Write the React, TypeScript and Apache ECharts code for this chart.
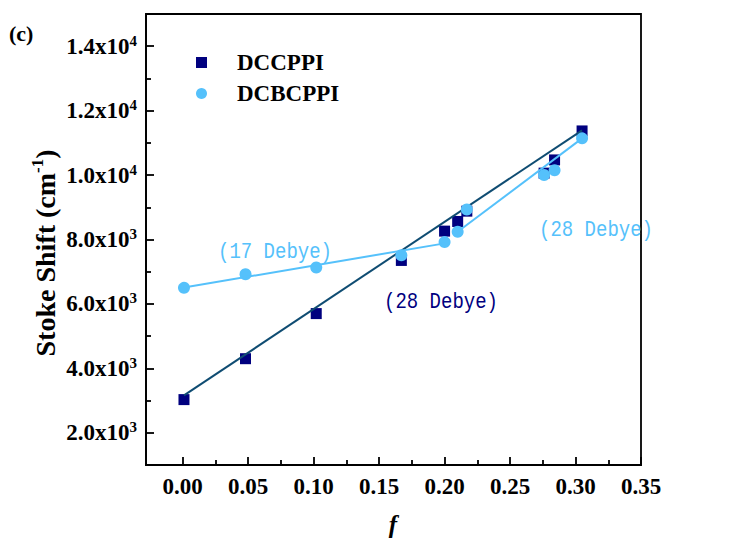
import React, { useEffect, useRef } from 'react';
import * as echarts from 'echarts';

// Orientation polarizability of the solvents
const fValues = [0.001, 0.048, 0.102, 0.167, 0.2, 0.21, 0.217, 0.276, 0.284, 0.305];
// Stokes shift (cm^-1) in each solvent
const dccppiShift = [3030, 4300, 5700, 7350, 8260, 8560, 8880, 10060, 10470, 11370];
const dcbcppiShift = [6500, 6920, 7130, 7510, 7920, 8240, 8930, 10000, 10150, 11140];

// Lippert–Mataga fit lines (end points)
const dccppiFit = [[0.001, 3160], [0.305, 11390]];
const dcbcppiFitLow = [[0.001, 6510], [0.2, 7880]];
const dcbcppiFitHigh = [[0.21, 8240], [0.305, 11140]];

const xMajorTicks = [0, 0.05, 0.1, 0.15, 0.2, 0.25, 0.3, 0.35];
const xMinorTicks = [0.025, 0.075, 0.125, 0.175, 0.225, 0.275, 0.325];
const yMajorTicks = [2000, 4000, 6000, 8000, 10000, 12000, 14000];
const yMinorTicks = [3000, 5000, 7000, 9000, 11000, 13000];

const X_MIN = -0.028;
const X_MAX = 0.35;
const Y_MIN = 1000;
const Y_MAX = 15000;

const SERIF = '"Times New Roman", "Liberation Serif", serif';
const MONO = '"Liberation Mono", "DejaVu Sans Mono", monospace';
const NAVY = '#00007f';
const DARK_LINE = '#0f4c72';
const LIGHT = '#55c1fb';
const AXIS = { color: '#000', width: 1.8 };

const sciLabel = (v: number) => {
  const exp = Math.floor(Math.log10(v) + 1e-9);
  const mant = (v / Math.pow(10, exp)).toFixed(1);
  return `{m|${mant}x10}{e|${exp}}`;
};

function buildOption() {
  const pairs = (ys: number[]) => fValues.map((f, i) => [f, ys[i]]);
  const note = (text: string, x: number, y: number, fill: string) => ({
    type: 'text',
    x,
    y,
    scaleY: 1.2,
    style: { text, font: `19px ${MONO}`, fill, align: 'center', verticalAlign: 'middle' },
  });
  return {
    animation: false,
    backgroundColor: '#fff',
    grid: {
      left: 146,
      right: 92,
      top: 14,
      bottom: 74,
      show: true,
      borderColor: '#000',
      borderWidth: 1.8,
    },
    legend: {
      orient: 'vertical',
      left: 191,
      top: 46,
      itemWidth: 11,
      itemHeight: 11,
      itemGap: 8,
      data: [
        { name: 'DCCPPI', icon: 'rect' },
        { name: 'DCBCPPI', icon: 'circle' },
      ],
      textStyle: {
        fontFamily: SERIF,
        fontWeight: 'bold',
        fontSize: 23,
        color: '#000',
        lineHeight: 22,
        padding: [0, 0, 0, 25],
      },
    },
    xAxis: [
      {
        type: 'value',
        min: X_MIN,
        max: X_MAX,
        position: 'bottom',
        axisLine: { show: true, onZero: false, lineStyle: AXIS },
        axisTick: { show: true, inside: true, length: 8, customValues: xMajorTicks, lineStyle: AXIS },
        axisLabel: {
          customValues: xMajorTicks,
          formatter: (v: number) => v.toFixed(2),
          fontFamily: SERIF,
          fontWeight: 'bold',
          fontSize: 23,
          color: '#000',
          margin: 10,
        },
        splitLine: { show: false },
      },
      {
        type: 'value',
        min: X_MIN,
        max: X_MAX,
        position: 'bottom',
        axisLine: { show: false, onZero: false },
        axisTick: { show: true, inside: true, length: 5, customValues: xMinorTicks, lineStyle: AXIS },
        axisLabel: { show: false },
        splitLine: { show: false },
      },
    ],
    yAxis: [
      {
        type: 'value',
        min: Y_MIN,
        max: Y_MAX,
        position: 'left',
        axisLine: { show: true, onZero: false, lineStyle: AXIS },
        axisTick: { show: true, inside: true, length: 8, customValues: yMajorTicks, lineStyle: AXIS },
        axisLabel: {
          customValues: yMajorTicks,
          formatter: sciLabel,
          margin: 9,
          rich: {
            m: { fontFamily: SERIF, fontWeight: 'bold', fontSize: 23, color: '#000', lineHeight: 26 },
            e: { fontFamily: SERIF, fontWeight: 'bold', fontSize: 15, color: '#000', lineHeight: 15, verticalAlign: 'top' },
          },
        },
        splitLine: { show: false },
      },
      {
        type: 'value',
        min: Y_MIN,
        max: Y_MAX,
        position: 'left',
        axisLine: { show: false, onZero: false },
        axisTick: { show: true, inside: true, length: 5, customValues: yMinorTicks, lineStyle: AXIS },
        axisLabel: { show: false },
        splitLine: { show: false },
      },
    ],
    graphic: [
      {
        type: 'text',
        x: 9,
        y: 33,
        style: { text: '(c)', font: `bold 22px ${SERIF}`, fill: '#000', align: 'left', verticalAlign: 'middle' },
      },
      {
        type: 'text',
        x: 45,
        y: 253,
        rotation: Math.PI / 2,
        style: {
          text: '{t|Stoke Shift (cm}{s|-1}{t|)}',
          align: 'center',
          verticalAlign: 'middle',
          rich: {
            t: { fontFamily: SERIF, fontWeight: 'bold', fontSize: 28, fill: '#000', lineHeight: 32 },
            s: { fontFamily: SERIF, fontWeight: 'bold', fontSize: 17, fill: '#000', lineHeight: 17, verticalAlign: 'top' },
          },
        },
      },
      {
        type: 'text',
        x: 393,
        y: 524,
        style: { text: 'f', font: `italic bold 25px ${SERIF}`, fill: '#000', align: 'center', verticalAlign: 'middle' },
      },
      note('(17 Debye)', 275, 252, LIGHT),
      note('(28 Debye)', 441, 302, NAVY),
      note('(28 Debye)', 596, 230, LIGHT),
    ],
    series: [
      {
        name: 'DCCPPI',
        type: 'scatter',
        symbol: 'rect',
        symbolSize: 11,
        itemStyle: { color: NAVY, opacity: 1 },
        data: pairs(dccppiShift),
        z: 2,
      },
      {
        name: 'DCCPPI fit',
        type: 'line',
        data: dccppiFit,
        showSymbol: false,
        symbol: 'none',
        lineStyle: { color: DARK_LINE, width: 2 },
        z: 3,
      },
      {
        name: 'DCBCPPI',
        type: 'scatter',
        symbol: 'circle',
        symbolSize: 12,
        itemStyle: { color: LIGHT, opacity: 1 },
        data: pairs(dcbcppiShift),
        z: 4,
      },
      {
        name: 'DCBCPPI fit low',
        type: 'line',
        data: dcbcppiFitLow,
        showSymbol: false,
        symbol: 'none',
        lineStyle: { color: LIGHT, width: 2 },
        z: 5,
      },
      {
        name: 'DCBCPPI fit high',
        type: 'line',
        data: dcbcppiFitHigh,
        showSymbol: false,
        symbol: 'none',
        lineStyle: { color: LIGHT, width: 2 },
        z: 5,
      },
    ],
  };
}

export default function App() {
  const ref = useRef<HTMLDivElement>(null);
  useEffect(() => {
    if (!ref.current) return;
    const chart = echarts.init(ref.current, null, { renderer: 'svg' });
    chart.setOption(buildOption() as any);
    return () => chart.dispose();
  }, []);
  return (
    <div
      ref={ref}
      style={{ position: 'absolute', left: 0, top: 0, width: 733, height: 539, background: '#fff' }}
    />
  );
}
